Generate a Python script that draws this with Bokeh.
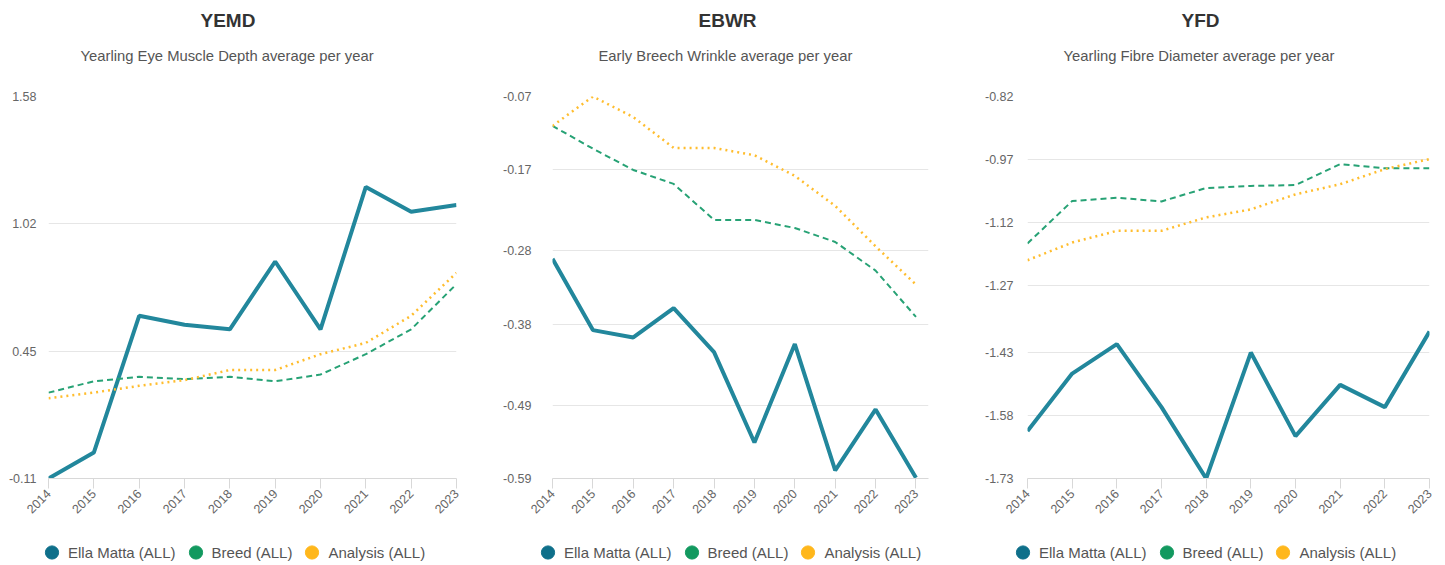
import math
from bokeh.plotting import figure
from bokeh.layouts import row, column
from bokeh.models import Range1d, FixedTicker, Title, Legend, LegendItem
from bokeh.embed import file_html
from bokeh.resources import INLINE

years = [2014, 2015, 2016, 2017, 2018, 2019, 2020, 2021, 2022, 2023]
series_names = ["Ella Matta (ALL)", "Breed (ALL)", "Analysis (ALL)"]

# YEMD
yemd_ella = [-0.11, 0.005, 0.61, 0.57, 0.55, 0.85, 0.55, 1.18, 1.07, 1.10]
yemd_breed = [0.27, 0.32, 0.34, 0.33, 0.34, 0.32, 0.35, 0.44, 0.55, 0.75]
yemd_analysis = [0.245, 0.27, 0.30, 0.325, 0.37, 0.37, 0.44, 0.49, 0.61, 0.80]
yemd_ticks = ["-0.11", "0.45", "1.02", "1.58"]

# EBWR
ebwr_ella = [-0.291, -0.388, -0.398, -0.358, -0.418, -0.541, -0.407, -0.579, -0.496, -0.589]
ebwr_breed = [-0.110, -0.141, -0.170, -0.189, -0.238, -0.238, -0.249, -0.268, -0.307, -0.370]
ebwr_analysis = [-0.110, -0.070, -0.098, -0.140, -0.140, -0.150, -0.178, -0.219, -0.274, -0.326]
ebwr_ticks = ["-0.59", "-0.49", "-0.38", "-0.28", "-0.17", "-0.07"]

# YFD
yfd_ella = [-1.617, -1.48, -1.41, -1.56, -1.73, -1.43, -1.629, -1.507, -1.56, -1.38]
yfd_breed = [-1.17, -1.069, -1.061, -1.070, -1.038, -1.033, -1.031, -0.981, -0.991, -0.991]
yfd_analysis = [-1.21, -1.168, -1.140, -1.140, -1.108, -1.089, -1.053, -1.029, -0.993, -0.969]
yfd_ticks = ["-1.73", "-1.58", "-1.43", "-1.27", "-1.12", "-0.97", "-0.82"]

FONT = "Liberation Sans"
ELLA_LINE = "#22879c"
ELLA_DOT = "#0e6f8a"
BREED_LINE = "#27a275"
BREED_DOT = "#12995f"
ANA_LINE = "#ffbd2e"
ANA_DOT = "#ffb71b"


def make_panel(code, subtitle, ella, breed, analysis, ticks, frame_w,
               b_left, b_right, standoff, x_end, code_off, sub_off):
    tvals = [float(t) for t in ticks]
    p = figure(frame_width=frame_w, frame_height=382, output_backend="svg",
               toolbar_location=None,
               x_range=Range1d(2014, x_end), y_range=Range1d(min(tvals), max(tvals)),
               min_border_left=b_left, min_border_right=b_right,
               min_border_top=96, min_border_bottom=61)
    p.outline_line_color = None
    p.background_fill_color = "white"

    p.title.text = code
    p.title.align = "left"
    p.title.offset = code_off
    p.title.text_font = FONT
    p.title.text_font_size = "19px"
    p.title.text_font_style = "bold"
    p.title.text_color = "#333333"
    p.title.standoff = 0

    spacer = Title(text=" ", text_font_size="10px", standoff=5)
    p.add_layout(spacer, "above")
    sub = Title(text=subtitle, align="left", offset=sub_off, text_font=FONT,
                text_font_size="14.8px", text_font_style="normal",
                text_color="#555555", standoff=30)
    p.add_layout(sub, "above")

    p.line(years, ella, line_color=ELLA_LINE, line_width=4)
    p.line(years, breed, line_color=BREED_LINE, line_width=2, line_dash="6 4")
    p.line(years, analysis, line_color=ANA_LINE, line_width=2.5, line_dash="2 4")

    p.xaxis.ticker = FixedTicker(ticks=years)
    p.xaxis.major_label_orientation = math.pi / 4
    p.xaxis.major_label_text_font = FONT
    p.xaxis.major_label_text_font_size = "12.5px"
    p.xaxis.major_label_text_color = "#666666"
    p.xaxis.axis_line_color = "#d8d8d8"
    p.xaxis.major_tick_line_color = "#d8d8d8"
    p.xaxis.major_tick_out = 10
    p.xaxis.major_tick_in = 0
    p.xaxis.minor_tick_line_color = None
    p.xaxis.major_label_standoff = 3

    p.yaxis.ticker = FixedTicker(ticks=tvals)
    p.yaxis.major_label_overrides = {v: t for v, t in zip(tvals, ticks)}
    p.yaxis.major_label_text_font = FONT
    p.yaxis.major_label_text_font_size = "12.5px"
    p.yaxis.major_label_text_color = "#666666"
    p.yaxis.axis_line_color = None
    p.yaxis.major_tick_line_color = None
    p.yaxis.major_tick_out = 0
    p.yaxis.major_tick_in = 0
    p.yaxis.minor_tick_line_color = None
    p.yaxis.minor_tick_out = 0
    p.yaxis.major_label_standoff = standoff

    p.xgrid.grid_line_color = None
    p.ygrid.grid_line_color = "#e6e6e6"
    p.ygrid.grid_line_width = 1
    return p


def make_legend(width, left_margin):
    lf = figure(width=width, height=26, output_backend="svg", toolbar_location=None,
                x_axis_type=None, y_axis_type=None, min_border=0,
                x_range=Range1d(0, 1), y_range=Range1d(0, 1))
    lf.outline_line_color = None
    nan = float("nan")
    k1 = lf.scatter([0.5], [nan], marker="circle", size=13, fill_color=ELLA_DOT, line_color=ELLA_DOT)
    k2 = lf.scatter([0.5], [nan], marker="circle", size=13, fill_color=BREED_DOT, line_color=BREED_DOT)
    k3 = lf.scatter([0.5], [nan], marker="circle", size=13, fill_color=ANA_DOT, line_color=ANA_DOT)
    legend = Legend(items=[LegendItem(label=series_names[0], renderers=[k1]),
                           LegendItem(label=series_names[1], renderers=[k2]),
                           LegendItem(label=series_names[2], renderers=[k3])],
                    orientation="horizontal", location="left",
                    label_text_font=FONT, label_text_font_size="15px",
                    label_text_color="#555555", glyph_width=33, glyph_height=33,
                    label_standoff=-6, spacing=3, border_line_color=None,
                    background_fill_alpha=0, margin=left_margin, padding=2)
    lf.add_layout(legend, "center")
    return lf


p1 = make_panel("YEMD", "Yearling Eye Muscle Depth average per year",
                yemd_ella, yemd_breed, yemd_analysis, yemd_ticks, 408, 48, 24, 12, 2023,
                152, 32)
p2 = make_panel("EBWR", "Early Breech Wrinkle average per year",
                ebwr_ella, ebwr_breed, ebwr_analysis, ebwr_ticks, 376, 72, 32, 21, 2023.31,
                146, 46)
p3 = make_panel("YFD", "Yearling Fibre Diameter average per year",
                yfd_ella, yfd_breed, yfd_analysis, yfd_ticks, 402, 67, 8, 14, 2023,
                154, 36)

l1 = make_legend(480, 35)
l2 = make_legend(480, 51)
l3 = make_legend(485, 46)

layout = column(row(p1, p2, p3), row(l1, l2, l3))
open("out.html", "w").write(file_html(layout, INLINE))
